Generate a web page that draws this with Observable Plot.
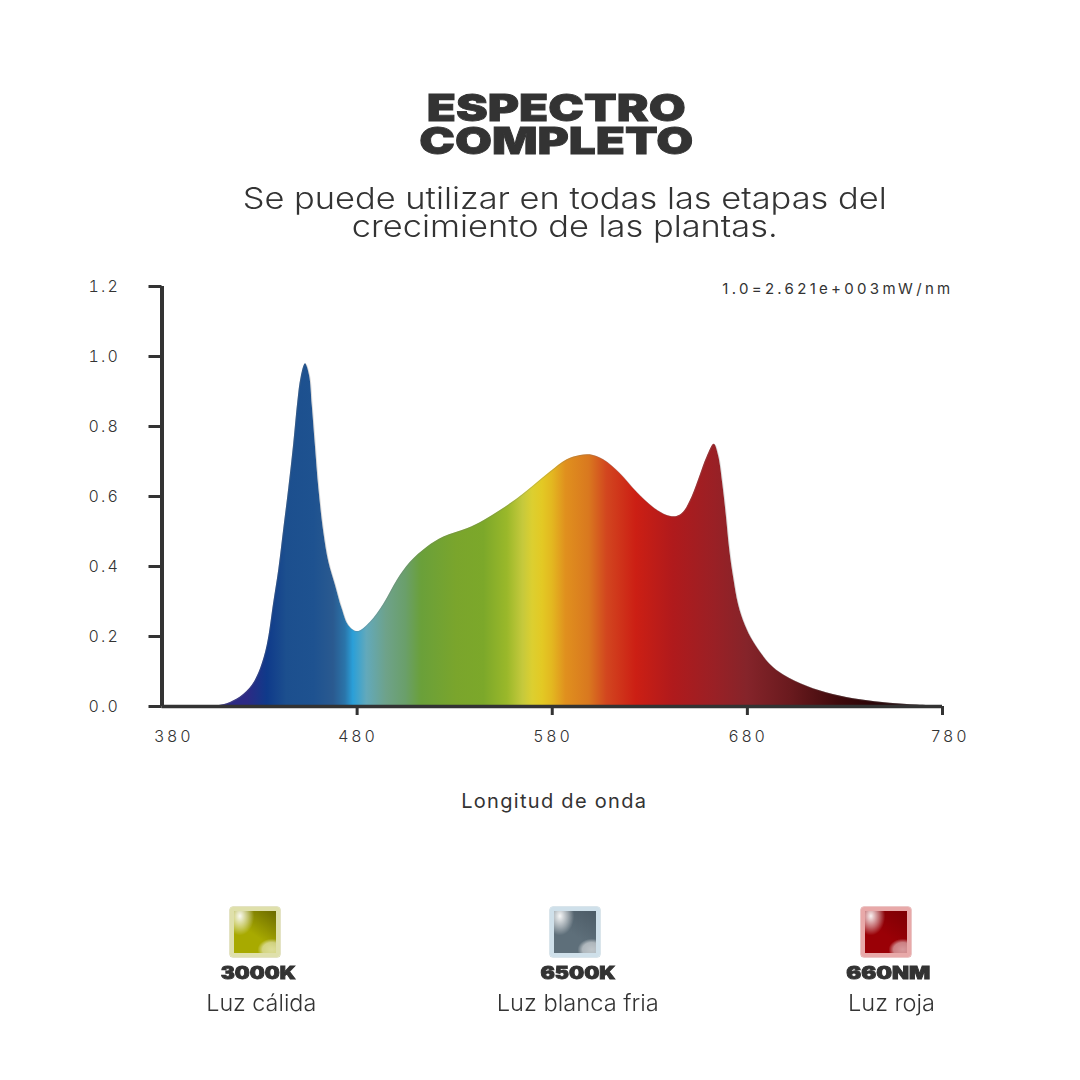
<!DOCTYPE html>
<html lang="es">
<head>
<meta charset="utf-8">
<script src="https://cdn.jsdelivr.net/npm/d3@7"></script>
<script src="https://cdn.jsdelivr.net/npm/@observablehq/plot@0.6"></script>
<style>
html,body{margin:0;padding:0;background:#fff;width:1080px;height:1080px;overflow:hidden}
#page{position:relative;width:1080px;height:1080px;color:#333;font-family:Inter,sans-serif}
#chart{position:absolute;left:0;top:260px}
.t{position:absolute;white-space:nowrap;text-align:center;transform-origin:center center}
.heavy{font-weight:900;-webkit-text-stroke:.8px #333}
.light{font-weight:300}
.chip{position:absolute;width:50px;height:50px;box-sizing:border-box;border-radius:3px;border:4px solid;filter:blur(.6px)}
#chart g[aria-label="y-axis tick label"] text{letter-spacing:2.2px;fill:#333}
</style>
</head>
<body>
<div id="page"><div id="chart"></div></div>
<script>
const wavelengths = [380,400,408,413.4,420.2,426.2,430.5,433.9,437.3,439.9,442.4,445,447.5,449.6,451.3,453.5,455.6,457,458.6,460.4,462.9,465.5,468.9,472.3,475.7,480.2,486.8,493.7,500.5,507.3,515.9,524.4,536.4,544.9,553.4,562,570.5,579,587.6,594.4,599.5,606.3,614.9,623.4,632,638.8,643.9,647.3,651.6,655.8,659.3,663,665.2,667.5,669.2,670.9,672.9,675.5,678.9,683.2,691.7,698.6,710.5,724,738,753,767,777];
const irradiance  = [0,0,.002,.008,.027,.06,.108,.174,.298,.393,.507,.625,.75,.87,.94,.979,.946,.86,.746,.622,.498,.412,.346,.279,.231,.214,.241,.293,.36,.412,.455,.484,.508,.531,.56,.593,.631,.67,.705,.717,.719,.705,.665,.612,.568,.546,.543,.555,.598,.66,.712,.749,.717,.631,.546,.45,.37,.29,.232,.184,.12,.09,.058,.034,.019,.0095,.004,.002];
const stopNm     = [408,424,434,444,458,468,474,478,485,495,505,513,531,545,557,565,570,575,580,587,599,608,623,642,663,680,702,727,745,777];
const stopColors = ["#2c2a85","#2c2a85","#0f3a8a","#1c4f8e","#1e5290","#2a5a90","#2a75aa","#2a9fd8","#62a9bb","#6ea28a","#6a9f6a","#6aa03a","#7aa52c","#7ca82a","#9ab82a","#c5c93c","#dccf30","#e3c924","#e3b820","#e0901e","#d9781f","#d2461f","#cc1f14","#b01a1c","#9a2025","#85242a","#6a1a1e","#3f0a0c","#2a0508","#2a2020"];
const xTicks = [480,580,680,780];
const xLabelFirst = [380];
const xLabelsMid = [480,580,680];
const xLabelLast = [780];
const yTicks = [0,.2,.4,.6,.8,1,1.2];
const unitLabel = "1.0=2.621e+003mW/nm";
const xTitle = "Longitud de onda";
const titleLines = ["ESPECTRO","COMPLETO"];
const subtitleLines = ["Se puede utilizar en todas las etapas del","crecimiento de las plantas."];
const legendCodes = ["3000K","6500K","660NM"];
const legendNames = ["Luz cálida","Luz blanca fria","Luz roja"];
const chipBase = ["#a8aa00","#5e6f7a","#9a0006"];
const chipDark = ["#6b6a00","#4c5b66","#7c0004"];
const chipEdge = ["#dfe0ab","#cfe0ea","#e8a9a9"];
const chipLine = ["#c9c88a","#b6ccd8","#d98f8f"];

const spectrum = wavelengths.map((nm,i)=>({nm,v:irradiance[i]}));
const nmMin = d3.min(wavelengths), nmMax = d3.max(wavelengths);
const ink = "#333";
const axisFont = {fontFamily:"Inter, sans-serif",fontWeight:300};

function spectrumGradient(){
  const defs = d3.create("svg:defs");
  const g = defs.append("linearGradient").attr("id","spectrum").attr("x1",0).attr("x2",1).attr("y1",0).attr("y2",0);
  stopNm.forEach((nm,i)=>g.append("stop").attr("offset",(nm-nmMin)/(nmMax-nmMin)).attr("stop-color",stopColors[i]));
  return defs.node();
}
const xLabel = (vals,dx)=>Plot.text(vals,{x:d=>d,frameAnchor:"bottom",dy:35,dx,text:d=>String(d),fontSize:16,fill:ink,...axisFont});

const plot = Plot.plot({
  width:1080,height:560,
  marginLeft:161.5,marginRight:138,marginTop:26,marginBottom:114,
  style:{background:"transparent",color:ink,fontFamily:"Inter, sans-serif",fontSize:"16px",overflow:"visible"},
  x:{type:"linear",domain:[380,780],label:null},
  y:{type:"linear",domain:[0,1.2],label:null},
  marks:[
    spectrumGradient,
    Plot.areaY(spectrum,{x:"nm",y:"v",curve:"catmull-rom",fill:"url(#spectrum)"}),
    Plot.lineY(spectrum,{x:"nm",y:"v",curve:"catmull-rom",stroke:"#777",strokeWidth:.7,strokeOpacity:.4}),
    Plot.ruleX([380],{y1:0,y2:1.2,stroke:ink,strokeWidth:4}),
    Plot.ruleY([0],{x1:380,x2:780,stroke:ink,strokeWidth:3.5}),
    Plot.axisY({ticks:yTicks,tickFormat:d3.format(".1f"),tickSize:13,tickPadding:29,strokeWidth:3,stroke:ink,fontSize:16,...axisFont,label:null}),
    Plot.axisX({ticks:xTicks,tickFormat:()=>"",tickSize:9,tickPadding:0,strokeWidth:3,stroke:ink,label:null}),
    xLabel(xLabelFirst,12),
    xLabel(xLabelsMid,1),
    xLabel(xLabelLast,8),
    Plot.text([unitLabel],{frameAnchor:"top-right",dx:11,dy:-3,textAnchor:"end",fontSize:15,fill:ink,fontWeight:400,fontFamily:"Inter, sans-serif"}),
    Plot.text([xTitle],{frameAnchor:"bottom",dx:2,dy:101,fontSize:20,fill:ink,fontWeight:400,fontFamily:"Inter, sans-serif"})
  ]
});
const tickLabels = new Set([...xLabelFirst,...xLabelsMid,...xLabelLast].map(String));
d3.select(plot).selectAll("text").each(function(){
  const s=this.textContent;
  if(s===unitLabel) this.style.letterSpacing="3.3px";
  else if(s===xTitle) this.style.letterSpacing="1.3px";
  else if(tickLabels.has(s)) this.style.letterSpacing="3.4px";
});
document.getElementById("chart").appendChild(plot);

const page = document.getElementById("page");
function fit(lines,cls,size,lh,cx,cy,targetW){
  const el=document.createElement("div");
  el.className="t "+cls; el.style.fontSize=size+"px"; el.style.lineHeight=lh+"px";
  lines.forEach((s,i)=>{ if(i) el.appendChild(document.createElement("br")); el.appendChild(document.createTextNode(s)); });
  page.appendChild(el);
  const r=el.getBoundingClientRect();
  el.style.left=(cx-r.width/2)+"px"; el.style.top=(cy-r.height/2)+"px";
  el.style.transform="scaleX("+(targetW/r.width)+")";
}
fit(titleLines,"heavy",37,33,556,124,274);
fit(subtitleLines,"light",30,28,565,212,644);
const chipX=[230,550,861], codeX=[258,578,888], codeW=[75,75,84], nameX=[261,578,892], nameW=[110,162,87];
legendCodes.forEach((c,i)=>{
  const chip=document.createElement("div");
  chip.className="chip";
  chip.style.left=chipX[i]+"px"; chip.style.top="907px";
  chip.style.borderColor=chipEdge[i];
  chip.style.boxShadow="0 0 0 .5px "+chipLine[i];
  chip.style.backgroundImage=
    "radial-gradient(ellipse 34% 46% at 14% 12%,rgba(255,255,255,.95) 0,rgba(255,255,255,.4) 60%,rgba(255,255,255,0) 100%),"+
    "radial-gradient(ellipse 34% 26% at 90% 92%,rgba(255,255,255,.6) 0,rgba(255,255,255,.5) 65%,rgba(255,255,255,0) 100%),"+
    "linear-gradient(215deg,"+chipDark[i]+" 0,"+chipBase[i]+" 55%,"+chipBase[i]+" 100%)";
  page.appendChild(chip);
  fit([c],"heavy",17,17,codeX[i],973,codeW[i]);
  fit([legendNames[i]],"light",23,23,nameX[i],1003,nameW[i]);
});
</script>
</body>
</html>
